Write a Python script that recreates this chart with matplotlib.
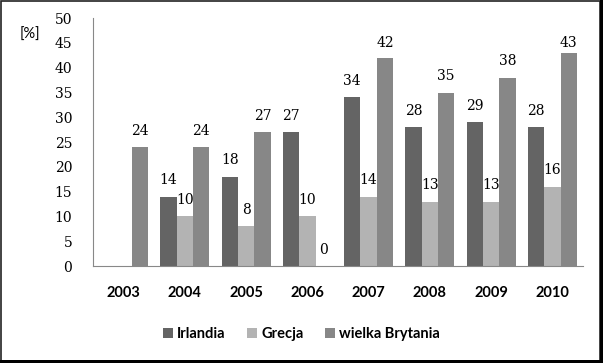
import matplotlib
matplotlib.use("Agg")
import matplotlib.pyplot as plt
from matplotlib.patches import Rectangle
import numpy as np

years = ["2003", "2004", "2005", "2006", "2007", "2008", "2009", "2010"]
irlandia = [None, 14, 18, 27, 34, 28, 29, 28]
grecja = [None, 10, 8, 10, 14, 13, 13, 16]
wielka_brytania = [24, 24, 27, 0, 42, 35, 38, 43]
series_names = ["Irlandia", "Grecja", "wielka Brytania"]
colors = ["#646464", "#b3b3b3", "#878787"]

fig = plt.figure(figsize=(6.03, 3.63), dpi=100)
ax = fig.add_axes([0.1542, 0.267, 0.8126, 0.683])

x = np.arange(len(years))
w = 0.267
series = [irlandia, grecja, wielka_brytania]
handles = []
for i, (vals, name, c) in enumerate(zip(series, series_names, colors)):
    xs = [xi + (i - 1) * w for xi, v in zip(x, vals) if v is not None]
    vs = [v for v in vals if v is not None]
    b = ax.bar(xs, vs, width=w, color=c, label=name)
    handles.append(b)
    for xi, v in zip(xs, vs):
        ax.text(xi, min(v + 2.5, 44.2), str(v), ha="center", va="baseline",
                fontsize=10, family="DejaVu Serif", color="black")

ax.set_xlim(-0.5, len(years) - 0.5)
ax.set_ylim(0, 50)
ax.set_yticks(range(0, 51, 5))
ax.set_xticks(x)
ax.set_xticklabels(years, fontsize=10.5, fontweight="bold", family="Lato")
for lab in ax.get_yticklabels():
    lab.set_fontsize(10)
    lab.set_family("DejaVu Serif")
for s in ["top", "right"]:
    ax.spines[s].set_visible(False)
ax.spines["left"].set_color("#888888")
ax.spines["bottom"].set_color("#888888")
ax.tick_params(axis="both", length=0)
ax.tick_params(axis="y", pad=15)
ax.tick_params(axis="x", pad=14)

fig.text(0.032, 0.905, "[%]", fontsize=10.5, family="Lato", ha="left", va="center")

leg = fig.legend(handles=handles, labels=series_names, loc="center",
                 bbox_to_anchor=(0.5, 0.08), ncol=3, frameon=False,
                 prop={"family": "Lato", "weight": "bold", "size": 10.5},
                 handlelength=0.65, handleheight=0.65, handletextpad=0.3, columnspacing=1.5)

# frame with shadow
fig.patches.append(Rectangle((0.0015, 0.0), 0.993, 0.997, transform=fig.transFigure,
                             fill=False, edgecolor="#222222", linewidth=1.2))
fig.patches.append(Rectangle((0.0, 0.0), 1.0, 0.008, transform=fig.transFigure,
                             facecolor="black", edgecolor="none"))
fig.patches.append(Rectangle((0.995, 0.0), 0.005, 1.0, transform=fig.transFigure,
                             facecolor="black", edgecolor="none"))

fig.savefig("out.png", dpi=100)
